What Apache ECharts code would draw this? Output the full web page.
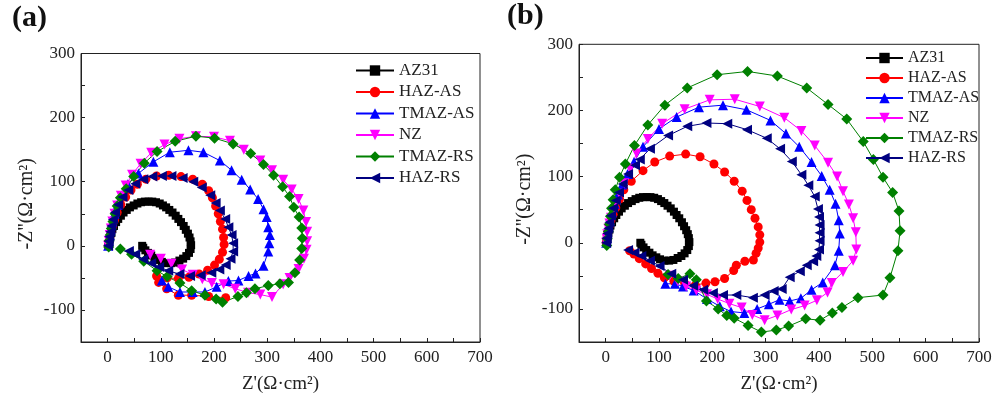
<!DOCTYPE html>
<html>
<head>
<meta charset="utf-8">
<script src="https://cdn.jsdelivr.net/npm/echarts@6/dist/echarts.min.js"></script>
<style>
  html, body { margin: 0; padding: 0; background: #fff; }
  #chart { width: 1003px; height: 399px; }
</style>
</head>
<body>
<div id="chart"></div>
<script>
// Nyquist data (Z' , -Z'')
const seriesNames = ["AZ31", "HAZ-AS", "TMAZ-AS", "NZ", "TMAZ-RS", "HAZ-RS"];
const xTicks = [0, 100, 200, 300, 400, 500, 600, 700];
const yTicks = [-100, 0, 100, 200, 300];

// AZ31 looks the same in both panels
const az31 = [[2,0],[3,5],[4,10],[5,15],[7,20],[9,26],[12,31],[16,37],[20,42],[25,47],[30,52],[36,56],[42,60],[49,63],[56,66],[63,68],[70,69],[77,69],[84,69],[91,68],[98,66],[104,63],[110,60],[116,56],[122,52],[128,47],[133,42],[138,37],[143,31],[147,25],[151,19],[154,13],[156,7],[157,1],[156,-5],[153,-11],[148,-16],[142,-20],[135,-23],[127,-26],[119,-27],[110,-27],[102,-25],[95,-22],[88,-19],[82,-15],[76,-11],[71,-7],[67,-3],[65,0]];

// panel (a)
const hazAsA = [[1,0],[2,6],[4,13],[6,21],[9,30],[13,40],[18,52],[25,64],[34,76],[44,87],[56,96],[72,104],[92,109],[115,110],[138,108],[160,104],[178,96],[190,86],[197,75],[203,62],[208,50],[212,38],[216,26],[218,13],[219,2],[216,-10],[210,-21],[201,-30],[188,-38],[172,-44],[153,-49],[133,-51],[112,-50],[92,-47],[96,-57],[111,-67],[133,-77],[158,-77],[190,-79],[222,-81]];
const tmazAsA = [[1,0],[2,8],[4,17],[6,27],[9,38],[13,50],[19,64],[27,79],[38,96],[58,113],[86,131],[117,146],[152,149],[180,146],[211,133],[233,118],[252,103],[268,88],[283,73],[293,57],[299,45],[302,29],[305,17],[304,4],[302,-9],[293,-31],[278,-43],[265,-47],[246,-54],[227,-55],[205,-64],[183,-72],[160,-72],[136,-72],[114,-64],[102,-54]];
const nzA = [[1,0],[2,8],[4,17],[6,27],[9,38],[13,50],[18,63],[25,78],[34,94],[46,111],[62,128],[82,145],[107,158],[135,167],[166,171],[200,170],[230,164],[256,150],[287,133],[309,118],[330,103],[346,88],[359,73],[368,55],[373,37],[375,22],[375,7],[374,-6],[369,-20],[359,-36],[342,-50],[330,-60],[309,-80],[287,-76],[264,-73],[240,-67],[218,-60],[196,-58],[178,-52],[160,-45],[140,-37],[120,-28],[100,-20],[80,-14]];
const tmazRsA = [[2,-2],[3,8],[5,17],[7,27],[10,38],[14,50],[18,62],[24,75],[35,89],[49,108],[69,129],[93,147],[127,163],[166,171],[201,168],[236,159],[269,144],[293,127],[312,110],[329,92],[342,77],[350,60],[360,45],[365,28],[366,12],[365,-4],[361,-22],[352,-42],[340,-57],[324,-59],[302,-62],[277,-67],[261,-73],[245,-79],[216,-88],[204,-83],[183,-77],[158,-70],[136,-58],[112,-48],[93,-39],[68,-24],[45,-13],[24,-5]];
const hazRsA = [[1,0],[2,7],[3,14],[5,22],[7,31],[10,41],[14,52],[20,64],[28,76],[39,87],[52,97],[67,104],[84,108],[102,109],[120,109],[141,106],[161,100],[177,91],[193,79],[203,67],[211,55],[221,42],[227,29],[233,17],[236,4],[236,-9],[231,-20],[222,-30],[210,-37],[195,-42],[175,-46],[155,-47],[135,-44],[114,-39],[97,-33],[82,-27],[67,-21],[52,-13],[40,-8]];

// panel (b)
const hazAsB = [[1,0],[2,5],[3,11],[5,18],[7,26],[10,34],[14,43],[19,53],[26,66],[34,80],[48,93],[70,109],[92,122],[120,131],[150,134],[177,130],[203,119],[223,107],[241,93],[256,78],[265,64],[273,50],[280,37],[286,24],[289,12],[289,1],[286,-8],[282,-16],[277,-26],[261,-28],[245,-34],[240,-42],[223,-54],[205,-59],[188,-61],[168,-64],[148,-61],[128,-58],[110,-53],[98,-46],[86,-39],[75,-32],[63,-24],[53,-17],[45,-12]];
const tmazAsB = [[1,0],[2,7],[3,15],[5,24],[8,34],[12,46],[17,59],[23,73],[31,88],[41,104],[53,122],[70,145],[100,172],[133,190],[175,205],[220,208],[264,201],[309,185],[338,165],[363,145],[386,122],[405,101],[420,80],[431,59],[437,34],[439,14],[437,-12],[430,-34],[407,-60],[386,-71],[366,-84],[345,-88],[326,-86],[306,-93],[284,-100],[260,-106],[235,-104],[214,-96],[190,-85],[165,-72],[145,-66],[130,-62],[112,-62]];
const nzB = [[1,0],[2,6],[3,13],[5,21],[7,29],[10,38],[14,48],[19,60],[26,74],[35,90],[46,112],[58,135],[79,157],[106,180],[148,202],[195,216],[242,217],[289,206],[335,189],[367,169],[392,147],[417,121],[434,100],[445,78],[456,58],[464,37],[469,16],[470,-10],[464,-27],[445,-44],[424,-61],[416,-75],[396,-87],[373,-95],[348,-101],[322,-110],[298,-117],[275,-109],[255,-98],[232,-92],[210,-85],[190,-78],[170,-72],[151,-66],[135,-58],[120,-50]];
const tmazRsB = [[2,-4],[3,6],[5,17],[7,28],[9,40],[11,52],[14,65],[18,80],[26,99],[37,119],[54,147],[79,178],[111,208],[153,234],[209,254],[266,259],[322,252],[377,234],[417,209],[452,187],[483,153],[502,126],[520,99],[538,76],[550,48],[552,18],[548,-12],[533,-53],[520,-79],[473,-83],[443,-98],[425,-106],[402,-117],[375,-115],[343,-126],[320,-132],[292,-135],[267,-125],[241,-114],[227,-110],[211,-100],[189,-88],[170,-56],[158,-47],[136,-54],[117,-48]];
const hazRsB = [[1,0],[2,7],[3,14],[5,22],[7,31],[10,41],[14,52],[19,64],[25,76],[32,89],[42,104],[55,117],[64,126],[83,142],[117,162],[153,176],[189,181],[228,180],[265,171],[302,158],[327,142],[349,123],[367,103],[380,87],[392,70],[398,51],[400,39],[401,27],[401,15],[401,3],[400,-10],[395,-20],[389,-28],[377,-34],[364,-43],[345,-52],[330,-70],[315,-73],[298,-79],[276,-83],[245,-79],[220,-79],[201,-76],[183,-71],[164,-65],[145,-56],[123,-47],[101,-35],[83,-27],[67,-20],[54,-15],[42,-11]];

const panelA = [az31, hazAsA, tmazAsA, nzA, tmazRsA, hazRsA];
const panelB = [az31, hazAsB, tmazAsB, nzB, tmazRsB, hazRsB];

const colors = ["#000000", "#ff0000", "#0000ff", "#ff00ff", "#008000", "#000080"];
const symbols = ["rect", "circle", "triangle", "triangle", "diamond", "triangle"];
const symbolRotations = [0, 0, 0, 180, 0, 90];
const symbolSizes = [8, 9, 10, 10, 11, 10];

const serif = "'Liberation Serif', 'DejaVu Serif', serif";

function buildXAxis(gridIndex) {
  return {
    type: "value",
    gridIndex,
    min: -50,
    max: 700,
    interval: 50,
    name: "Z'(Ω·cm²)",
    nameLocation: "middle",
    nameGap: 33,
    nameTextStyle: { color: "#222", fontFamily: serif, fontSize: 19 },
    axisLine: { onZero: false, lineStyle: { color: "#222", width: 1 } },
    axisTick: { inside: true, length: 4, lineStyle: { color: "#222" } },
    axisLabel: {
      color: "#222",
      fontFamily: serif,
      fontSize: 17,
      margin: 7,
      showMinLabel: true,
      showMaxLabel: true,
      formatter: (v) => (xTicks.includes(v) ? String(v) : ""),
    },
    splitLine: { show: false },
  };
}

function buildYAxis(gridIndex) {
  return {
    type: "value",
    gridIndex,
    min: -150,
    max: 300,
    interval: 50,
    name: "-Z''(Ω·cm²)",
    nameLocation: "middle",
    nameGap: 44,
    nameTextStyle: { color: "#222", fontFamily: serif, fontSize: 20, padding: [0, 12, 0, 0] },
    axisLine: { onZero: false, lineStyle: { color: "#222", width: 1 } },
    axisTick: { inside: true, length: 4, lineStyle: { color: "#222" } },
    axisLabel: {
      color: "#222",
      fontFamily: serif,
      fontSize: 17,
      margin: 6,
      showMinLabel: true,
      showMaxLabel: true,
      formatter: (v) => (yTicks.includes(v) ? String(v) : ""),
    },
    splitLine: { show: false },
  };
}

function buildSeries(panel, axisIndex) {
  return panel.map((points, i) => ({
    type: "line",
    name: seriesNames[i],
    xAxisIndex: axisIndex,
    yAxisIndex: axisIndex,
    data: points,
    symbol: symbols[i],
    symbolSize: symbolSizes[i],
    symbolRotate: symbolRotations[i],
    showSymbol: true,
    showAllSymbol: true,
    smooth: false,
    lineStyle: { color: colors[i], width: 1 },
    itemStyle: { color: colors[i] },
    emphasis: { disabled: true },
  }));
}

function buildLegend(left, top, itemWidth, itemGap, fontSize) {
  return {
    orient: "vertical",
    left,
    top,
    padding: 0,
    itemWidth,
    itemHeight: 13,
    itemGap,
    data: seriesNames,
    textStyle: { color: "#222", fontFamily: serif, fontSize },
  };
}

const chart = echarts.init(document.getElementById("chart"), null, { renderer: "canvas" });

chart.setOption({
  animation: false,
  backgroundColor: "#ffffff",
  grid: [
    { left: 81, top: 53.5, width: 399, height: 296, show: true, borderColor: "#222", borderWidth: 1 },
    { left: 579, top: 44.3, width: 400, height: 305, show: true, borderColor: "#222", borderWidth: 1 },
  ],
  xAxis: [buildXAxis(0), buildXAxis(1)],
  yAxis: [buildYAxis(0), buildYAxis(1)],
  legend: [buildLegend(355, 62, 38, 4.5, 17), buildLegend(865, 50, 37, 4, 16)],
  graphic: [
    { type: "text", left: 12, top: 3, style: { text: "(a)", font: "bold 30px " + serif, fill: "#111" } },
    { type: "text", left: 507, top: 1, style: { text: "(b)", font: "bold 30px " + serif, fill: "#111" } },
  ],
  series: [...buildSeries(panelA, 0), ...buildSeries(panelB, 1)],
});
</script>
</body>
</html>
